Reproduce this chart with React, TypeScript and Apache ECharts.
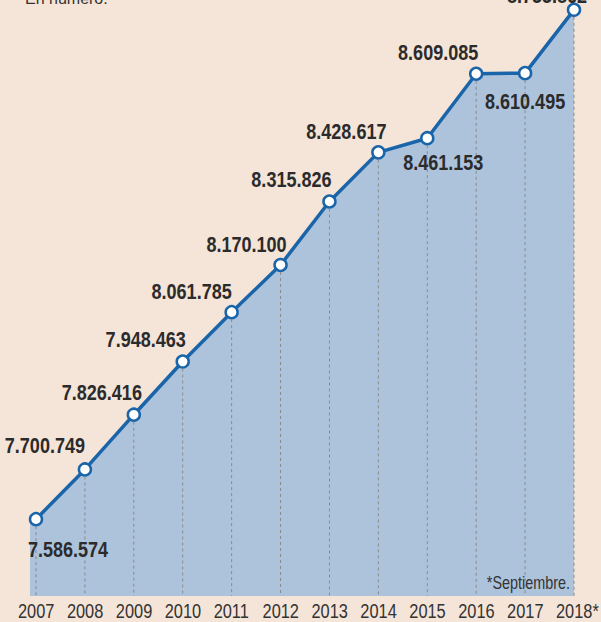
import React, { useEffect, useRef } from "react";
import * as echarts from "echarts";

const years = ["2007", "2008", "2009", "2010", "2011", "2012", "2013", "2014", "2015", "2016", "2017", "2018*"];
const values = [7586574, 7700749, 7826416, 7948463, 8061785, 8170100, 8315826, 8428617, 8461153, 8609085, 8610495, 8755862];
const note = "*Septiembre.";
const subtitle = "En número.";

// label placement offsets (dx, dy of label centre relative to point), layout only
const labelOffsets: [number, number][] = [
  [32, 30], [-40, -24], [-32, -22], [-37, -22], [-40, -21], [-34, -21],
  [-38, -22], [-32, -21], [16, 24], [-38, -21], [0, 28], [-27, -14],
];

const FONT = "'Liberation Sans', Arial, sans-serif";
const fmt = (v: number) => String(v).replace(/\B(?=(\d{3})+(?!\d))/g, ".");

const Y_MIN = 7410200;
const Y_MAX = 8778400;
const BLUE = "#1A65A9";
const FILL = "#ADC3DB";

export default function App() {
  const ref = useRef<HTMLDivElement>(null);
  useEffect(() => {
    document.body.style.margin = "0";
    document.body.style.background = "#F5E4D8";
    const chart = echarts.init(ref.current!, null, { renderer: "svg" });
    chart.setOption({
      animation: false,
      backgroundColor: "#F5E4D8",
      grid: { left: 36, right: 27, top: 0, bottom: 26 },
      xAxis: {
        type: "category",
        data: years,
        boundaryGap: false,
        axisLine: { show: false },
        axisTick: { show: false },
        axisLabel: { show: false },
        splitLine: { show: false },
      },
      yAxis: {
        type: "value",
        min: Y_MIN,
        max: Y_MAX,
        show: false,
        splitLine: { show: false },
      },
      series: [
        {
          type: "line",
          data: values,
          z: 2,
          symbol: "circle",
          symbolSize: 12,
          lineStyle: { color: BLUE, width: 3.5 },
          itemStyle: { color: "#fff", borderColor: BLUE, borderWidth: 2.5 },
          areaStyle: { color: FILL, opacity: 1, origin: "start" },
          label: { show: false },
        },
        {
          type: "custom",
          z: 3,
          silent: true,
          data: values.map((v, i) => [i, v]),
          renderItem: (params: any, api: any) => {
            const p1 = api.coord([api.value(0), api.value(1)]);
            const p0 = api.coord([api.value(0), Y_MIN]);
            return {
              type: "line",
              shape: { x1: p1[0], y1: p1[1] + 7, x2: p0[0], y2: p0[1] },
              style: { stroke: "#8a8a8a", lineWidth: 1, lineDash: [3, 3] },
            };
          },
        },
      ],
    });

    const graphics: any[] = [
      {
        type: "text",
        x: 25,
        y: -2,
        style: { text: subtitle, font: `16px ${FONT}`, fill: "#333", textVerticalAlign: "middle" },
      },
      {
        type: "text",
        x: 570,
        y: 582,
        scaleX: 0.8,
        z: 10,
        style: { text: note, font: `18px ${FONT}`, fill: "#333", textAlign: "right", textVerticalAlign: "middle" },
      },
    ];
    const first = chart.convertToPixel({ seriesIndex: 0 }, [0, values[0]]) as number[];
    const firstBase = chart.convertToPixel({ seriesIndex: 0 }, [0, Y_MIN]) as number[];
    graphics.push({
      type: "rect",
      z: 0,
      shape: { x: first[0] - 6, y: first[1], width: 6.5, height: firstBase[1] - first[1] },
      style: { fill: FILL },
    });
    values.forEach((v, i) => {
      const p = chart.convertToPixel({ seriesIndex: 0 }, [i, v]) as number[];
      const base = chart.convertToPixel({ seriesIndex: 0 }, [i, Y_MIN]) as number[];
      const [dx, dy] = labelOffsets[i];
      graphics.push({
        type: "text",
        x: p[0] + dx,
        y: p[1] + dy,
        scaleX: 0.82,
        z: 10,
        style: {
          text: fmt(v),
          font: `bold 22px ${FONT}`,
          fill: "#2b2b2b",
          textAlign: "center",
          textVerticalAlign: "middle",
        },
      });
      graphics.push({
        type: "text",
        x: base[0] - 18,
        y: 611,
        scaleX: 0.78,
        z: 10,
        style: {
          text: years[i],
          font: `21px ${FONT}`,
          fill: "#333",
          textAlign: "left",
          textVerticalAlign: "middle",
        },
      });
    });
    chart.setOption({ graphic: graphics });
    return () => chart.dispose();
  }, []);
  return <div ref={ref} style={{ position: "absolute", left: 0, top: 0, width: 601, height: 622 }} />;
}
